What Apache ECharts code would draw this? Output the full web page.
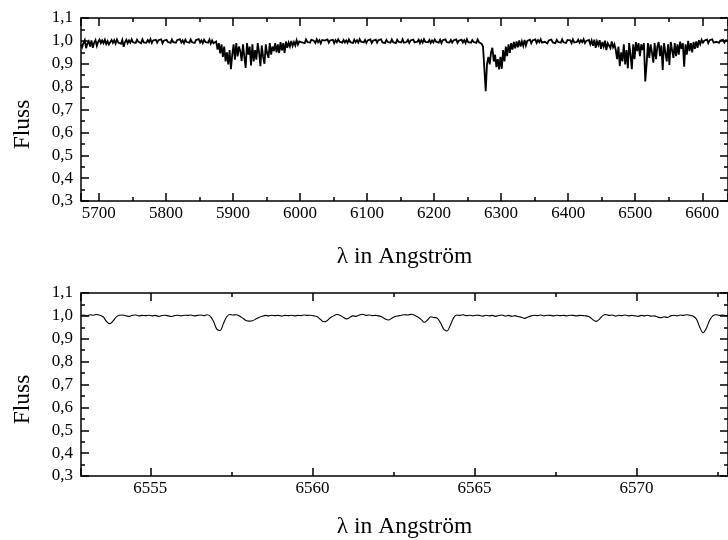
<!DOCTYPE html>
<html><head><meta charset="utf-8">
<script src="https://cdn.jsdelivr.net/npm/echarts@6/dist/echarts.min.js"></script>
<style>html,body{margin:0;padding:0;background:#fff}#c{width:728px;height:540px}</style>
</head><body><div id="c"></div>
<script>
// ---------- Top panel: overview spectrum (sampled every 2 Å) ----------
const topStep = 2;
const topSeg1Start = 5673;
const topSeg1 = [.985,.972,.99,1.003,.968,.988,.998,.975,1.002,.97,.993,1.004,.978,.996,1.006,.99];
const topSeg2Start = 5705;
const topSeg2 = [1.002,.99,1.005,.986,.999,.984,.977,1.004,.991,1.003,.988,1.006,.993,.999,.987,1.004,.974,.995,1.005,.99,
  1.002,.992,1.007,.994,1.001,.991,1.005,.996,1.003,.99,1.006,.993,1.0,.992,1.004,.995,1.008,.991,1.002,.994,
  1.005,.992,1.003,.996,1.007,.99,1.001,.993,1.005,.995,1.002,.991,1.006,.994,1.0,.992,1.004,.996,1.007,.993,
  1.002,.99,1.005,.995,1.003,.992,1.006,.994,1.001,.991,1.004,.996,1.008,.993,1.002,.99,1.005,.995,1.003,.992,
  1.006,.988,1.002];
const topSeg3Start = 5871;
const topSeg3 = [.99,.982,.997,.962,.99,.945,.985,.93,.975,.91,.95,.897,.96,.876,.94,.985,.918,.99,.932,.975,
  .955,.912,.985,.93,.882,.99,.94,.975,.893,.985,.91,.96,.918,.99,.95,.889,.98,.93,.9,.985,
  .945,.926,.99,.94,.975,.955,.99,.95,.985,.947];
const topSeg4Start = 5971;
const topSeg4 = [.995,.958,.99,.948,.997,.97,.992,.975,1.0,.978,.995,.98,1.003,.984,.998];
const topSeg5Start = 6001;
const topSeg5 = [1.004,.993,1.001,.99,1.006,.995,1.002,.992,1.005,.997,
  1.0,.991,1.007,.994,1.003,.989,1.004,.996,1.001,.993,
  1.006,.992,1.002,.995,1.005,.99,1.003,.994,1.007,.996,
  1.0,.992,1.004,.993,1.002,.991,1.006,.995,1.001,.99,
  1.005,.994,1.003,.992,1.007,.996,1.0,.993,1.004,.991,
  1.002,.995,1.006,.99,1.001,.994,1.005,.992,1.003,.996,
  1.007,.993,1.0,.991,1.004,.995,1.002,.992,1.006,.994,
  1.001,.99,1.005,.996,1.003,.993,1.007,.992,1.0,.995,
  1.004,.991,1.002,.994,1.006,.993,1.001,.996,1.005,.99,
  1.003,.992,1.007,.995,1.0,.994,1.004,.991,1.002,.993,
  1.006,.996,1.001,.992,1.005,.99,1.003,.995,1.007,.994,
  1.0,.993,1.004,.992,1.002,.996,1.006,.991,1.001,.995,
  1.005,.993,1.003,.99,1.007,.994,1.0,.992,1.004,.995,
  1.002,.991,1.006,.994,1.001,.987];
const topSeg6Start = 6273;
const topSeg6 = [.975,.88,.78,.9,.93,.897,.95,.97,.91,.94,.885,.92,.875,.93,.878,.96,.91,.975,.933,.985,
  .948,.99,.962,.995,.967,.998,.972,1.002,.975,.998,.978,1.004,.98,1.0];
const topSeg7Start = 6341;
const topSeg7 = [.993,1.005,.99,1.002,.995,1.006,.991,1.003,.994,1.007,
  .992,1.0,.996,1.004,.989,1.002,.994,1.006,.993,1.001,
  .99,1.005,.995,1.003,.992,1.007,.994,1.0,.991,1.004,
  .996,1.002,.99,1.006,.993,1.001,.995,1.005,.992,1.003,
  .994,1.007,.99,1.0,.993,1.004,.985,1.002,.978,1.005,
  .97,.998,.982,1.003,.965,.995,.975,1.001,.96,.99];
const topSeg8Start = 6461;
const topSeg8 = [.99,.968,.998,.972,.985,.96,.92,.975,.89,.95,.91,.985,.897,.96,.88,.99,.94,.876,.985,.92,
  .995,.955,.99,.933,.985,.96,.99,.823,.897,.99,.926,.985,.95,.905,.99,.92,.975,.995,.933,.98,
  .873,.99,.95,.91,.985,.895,.995,.96,.926,.99,.933,.985,.94,.997,.965,.99,.887,.985,.94,1.0,
  .955,.99,.95,.995,.965];
const topSeg9Start = 6591;
const topSeg9 = [.998,.97,1.003,.985,1.005,.992,1.001,.994,1.006,.99,1.003,.995,1.007,.992,1.0,.996,1.004,.991,1.002,.995,
  1.005,.993,1.003,.996,1.001];

// ---------- Bottom panel: zoom around 6553–6573 Å (sampled every 0.1 Å) ----------
const bottomStart = 6552.85;
const bottomStep = 0.1;
const bottomFlux = [1.002,1.004,1.0,1.005,1.003,1.006,1.002,.995,.975,.966,
  .978,.996,1.003,1.004,1.0,.997,1.003,1.004,1.0,1.002,
  1.001,1.003,1.0,1.002,.998,1.001,1.003,1.0,.997,1.002,
  1.003,1.0,1.003,1.002,1.004,1.0,1.002,1.004,1.001,1.005,
  .998,.975,.942,.936,.965,.995,1.006,1.004,1.005,.999,
  .99,.98,.977,.979,.986,.993,.998,1.002,1.0,1.003,
  1.001,1.002,.999,1.002,1.001,1.003,1.0,1.002,1.001,1.004,
  1.002,1.003,1.0,.996,.984,.974,.979,.992,1.0,1.006,
  1.003,.994,.987,.993,1.0,.998,1.004,1.007,1.002,1.004,
  1.001,1.002,1.0,.995,.986,.982,.99,.997,1.0,1.003,
  1.005,1.004,1.007,1.003,.995,.985,.972,.982,.996,.993,
  .99,.97,.942,.934,.958,.99,1.004,1.002,1.005,1.001,
  1.003,1.0,1.003,1.002,.999,1.003,1.0,1.002,.998,1.002,
  1.004,.999,1.002,.998,1.001,.997,.994,.989,.995,1.0,
  1.003,1.001,1.004,1.0,1.003,1.002,1.0,1.003,1.001,1.002,
  1.0,1.003,1.002,1.0,1.002,1.001,1.0,.995,.983,.976,
  .985,1.0,1.006,1.002,1.004,.999,1.003,1.001,1.004,1.0,
  1.002,1.0,.998,1.002,1.0,1.003,.999,1.0,.995,.992,
  .996,.993,1.0,1.003,1.0,1.004,1.002,1.005,1.003,.998,
  .985,.95,.926,.945,.98,1.0,1.005,1.002,1.004,1.001,1.003];

// ---------- Axis settings ----------
const yTicks = {min: 0.3, max: 1.1, interval: 0.1};
const topRange = {min: 5673.4, max: 6638.4, splitNumber: 10};
const bottomRange = {min: 6552.86, max: 6572.82, splitNumber: 4};
const xTitle = 'λ in Angström';
const yTitle = 'Fluss';

// ---------- Build ----------
const topSegments = [[topSeg1Start, topSeg1],[topSeg2Start, topSeg2],[topSeg3Start, topSeg3],[topSeg4Start, topSeg4],
  [topSeg5Start, topSeg5],[topSeg6Start, topSeg6],[topSeg7Start, topSeg7],[topSeg8Start, topSeg8],[topSeg9Start, topSeg9]];
const topData = [];
topSegments.forEach(([s, arr]) => arr.forEach((v, i) => topData.push([s + i * topStep, v])));
const bottomData = bottomFlux.map((v, i) => [+(bottomStart + i * bottomStep).toFixed(2), v]);

const FONT = "'Liberation Serif','Times New Roman',serif";
const black = '#000';
const lineW = 1.5;

function xAx(grid, range, pos, withLabels, nameGap) {
  const a = {
    type: 'value', gridIndex: grid, position: pos, min: range.min, max: range.max, splitNumber: range.splitNumber,
    axisLine: {show: true, onZero: false, lineStyle: {color: black, width: lineW}},
    axisTick: {show: true, inside: true, length: 8, lineStyle: {color: black, width: lineW}},
    minorTick: {show: true, splitNumber: 2, length: 4, lineStyle: {color: black, width: lineW}},
    splitLine: {show: false}, minorSplitLine: {show: false},
    axisLabel: {show: withLabels, margin: 4, color: black, fontFamily: FONT, fontSize: 17,
      showMinLabel: false, showMaxLabel: false, formatter: v => String(Math.round(v))}
  };
  if (withLabels) {
    a.name = xTitle; a.nameLocation = 'middle'; a.nameGap = nameGap;
    a.nameTextStyle = {color: black, fontFamily: FONT, fontSize: 23.5};
  }
  return a;
}
function yAx(grid, pos, withLabels) {
  const a = {
    type: 'value', gridIndex: grid, position: pos, min: yTicks.min, max: yTicks.max, interval: yTicks.interval,
    axisLine: {show: true, onZero: false, lineStyle: {color: black, width: lineW}},
    axisTick: {show: true, inside: true, length: 8, lineStyle: {color: black, width: lineW}},
    minorTick: {show: true, splitNumber: 2, length: 4, lineStyle: {color: black, width: lineW}},
    splitLine: {show: false}, minorSplitLine: {show: false},
    axisLabel: {show: withLabels, margin: 8, color: black, fontFamily: FONT, fontSize: 17,
      formatter: v => v.toFixed(1).replace('.', ',')}
  };
  if (withLabels) {
    a.name = yTitle; a.nameLocation = 'middle'; a.nameRotate = 90; a.nameGap = 46;
    a.nameTextStyle = {color: black, fontFamily: FONT, fontSize: 23.5, padding: [0, 30, 0, 0]};
  }
  return a;
}

const chart = echarts.init(document.getElementById('c'), null, {renderer: 'canvas'});
chart.setOption({
  animation: false,
  backgroundColor: '#fff',
  grid: [
    {left: 81, top: 18, width: 653, height: 183},
    {left: 81, top: 293, width: 653, height: 183}
  ],
  xAxis: [
    xAx(0, topRange, 'bottom', true, 44),
    xAx(0, topRange, 'top', false),
    xAx(1, bottomRange, 'bottom', true, 39),
    xAx(1, bottomRange, 'top', false)
  ],
  yAxis: [yAx(0, 'left', true), yAx(0, 'right', false), yAx(1, 'left', true), yAx(1, 'right', false)],
  series: [
    {type: 'line', xAxisIndex: 0, yAxisIndex: 0, data: topData, showSymbol: false,
      lineStyle: {color: black, width: 1.8, join: 'miter', miterLimit: 4}, silent: true},
    {type: 'line', xAxisIndex: 2, yAxisIndex: 2, data: bottomData, showSymbol: false, smooth: 0.3,
      lineStyle: {color: black, width: 1.1}, silent: true}
  ]
});
</script></body></html>
